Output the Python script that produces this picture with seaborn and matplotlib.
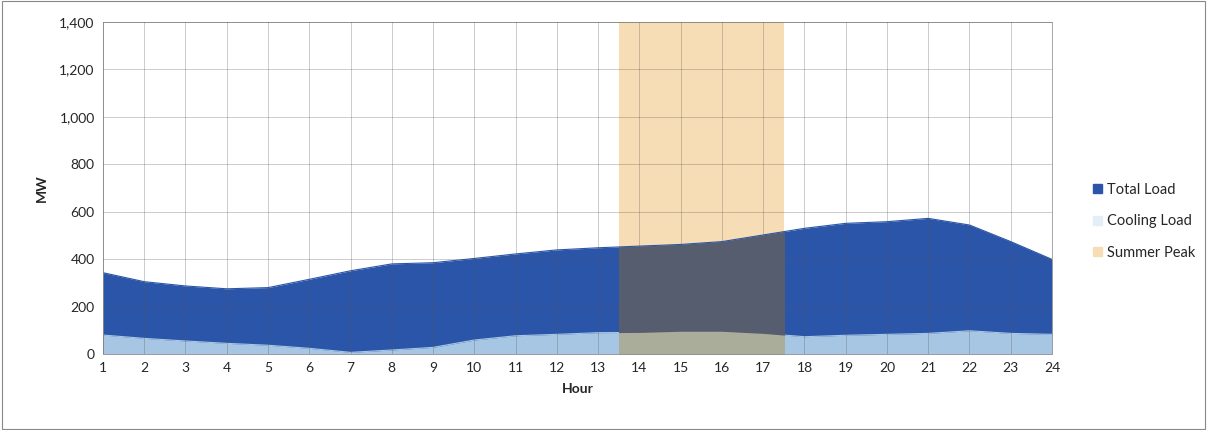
"""
Hourly load profile with summer peak window
"""
import matplotlib
matplotlib.use("Agg")
import matplotlib.pyplot as plt
from matplotlib.patches import Rectangle
from matplotlib.ticker import FuncFormatter
import seaborn as sns
import numpy as np
import pandas as pd

# Data
hours = list(range(1, 25))
total_load = [343, 305, 287, 275, 280, 315, 351, 380, 385, 403, 422, 439,
              448, 455, 462, 474, 502, 530, 551, 558, 572, 544, 474, 399]
cooling_load = [80, 66, 55, 45, 37, 24, 7, 17, 28, 59, 77, 83,
                90, 91, 96, 96, 87, 73, 79, 83, 87, 98, 87, 83]
peak_start, peak_end = 13.5, 17.5
y_ticks = [0, 200, 400, 600, 800, 1000, 1200, 1400]

df = pd.DataFrame({"Hour": hours, "Total Load": total_load,
                   "Cooling Load": cooling_load})

DARK_BLUE = "#2B55A8"
LIGHT_BLUE = "#A6C6E4"
TAN = "#F6DDB5"
DARK_OVER = "#565D6F"
LIGHT_OVER = "#A9AD99"

sns.set_style("white")
plt.rcParams['font.family'] = ['Lato', 'DejaVu Sans']
plt.rcParams['font.size'] = 10

fig = plt.figure(figsize=(12.07, 4.30), dpi=100)
ax = fig.add_axes([0.0853, 0.1767, 0.7863, 0.7721])

# Summer peak band (white part)
ax.axvspan(peak_start, peak_end, color=TAN, zorder=0, lw=0)

# Areas
ax.fill_between(df["Hour"], 0, df["Total Load"], color=DARK_BLUE, lw=0, zorder=1)
ax.fill_between(df["Hour"], 0, df["Cooling Load"], color=LIGHT_BLUE, lw=0, zorder=2)
sns.lineplot(data=df, x="Hour", y="Total Load", color=DARK_BLUE, lw=0.8, ax=ax, zorder=1)
sns.lineplot(data=df, x="Hour", y="Cooling Load", color=LIGHT_BLUE, lw=0.8, ax=ax, zorder=2)

# Peak band tint over the areas
clip = Rectangle((peak_start, 0), peak_end - peak_start, y_ticks[-1],
                 transform=ax.transData, visible=False)
ax.add_patch(clip)
p1 = ax.fill_between(df["Hour"], 0, df["Total Load"], color=DARK_OVER, lw=0, zorder=3)
p2 = ax.fill_between(df["Hour"], 0, df["Cooling Load"], color=LIGHT_OVER, lw=0, zorder=4)
p1.set_clip_path(clip)
p2.set_clip_path(clip)

ax.set_xlim(1, 24)
ax.set_ylim(0, 1400)
ax.set_xticks(hours)
ax.set_yticks(y_ticks)
ax.yaxis.set_major_formatter(FuncFormatter(lambda v, _: f"{int(v):,}"))
ax.grid(True, color="#555555", alpha=0.35, lw=0.6, zorder=5)
ax.set_axisbelow(False)
ax.tick_params(length=0, labelsize=10, pad=6)
for s in ax.spines.values():
    s.set_color("#999999")
    s.set_linewidth(0.6)

ax.set_xlabel("Hour", fontweight="bold", fontsize=10, labelpad=6)
ax.set_ylabel("MW", fontweight="bold", fontsize=10, labelpad=8)

# Legend
handles = [Rectangle((0, 0), 1, 1, color=DARK_BLUE),
           Rectangle((0, 0), 1, 1, color="#E4EEF6"),
           Rectangle((0, 0), 1, 1, color=TAN)]
fig.legend(handles, ["Total Load", "Cooling Load", "Summer Peak"],
           loc="upper left", bbox_to_anchor=(0.895, 0.605), frameon=False,
           handlelength=0.6, handleheight=0.6, handletextpad=0.3,
           labelspacing=1.2, fontsize=10.5)

# Outer frame
fig.patches.append(Rectangle((0.002, 0.003), 0.996, 0.994, transform=fig.transFigure,
                             fill=False, edgecolor="#888888", lw=0.8))

fig.savefig("out.png", dpi=100)
